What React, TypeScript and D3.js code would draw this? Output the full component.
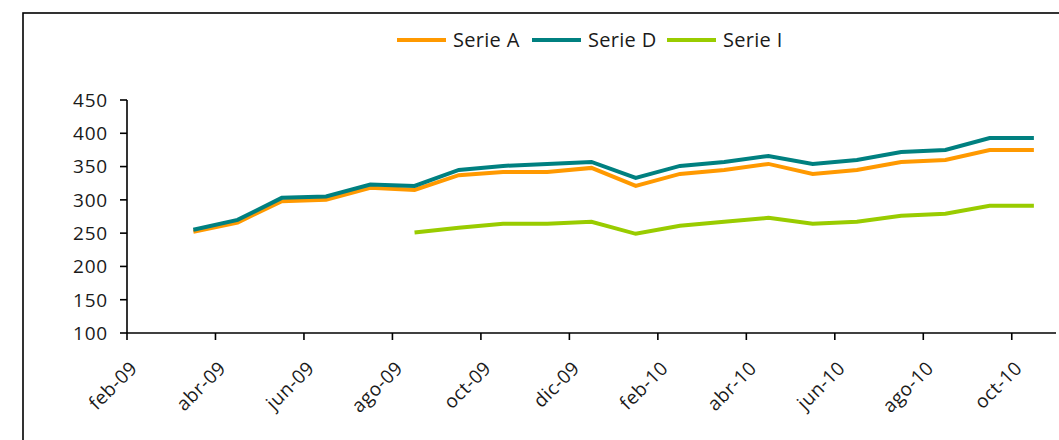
import React from "react";
import * as d3 from "d3";

// data months: mar-09 .. oct-10
const serieA = [252, 266, 298, 300, 318, 315, 337, 342, 342, 348, 321, 339, 345, 354, 339, 345, 357, 360, 375, 375];
const serieD = [255, 270, 303, 305, 323, 321, 345, 351, 354, 357, 333, 351, 357, 366, 354, 360, 372, 375, 393, 393];
const serieI: (number | null)[] = [null, null, null, null, null, 251, 258, 264, 264, 267, 249, 261, 267, 273, 264, 267, 276, 279, 291, 291];
const xTickLabels = ["feb-09","abr-09","jun-09","ago-09","oct-09","dic-09","feb-10","abr-10","jun-10","ago-10","oct-10"];
const yTicks = [100, 150, 200, 250, 300, 350, 400, 450];

const series = [
  { name: "Serie A", values: serieA, color: "#FF9900" },
  { name: "Serie D", values: serieD, color: "#008080" },
  { name: "Serie I", values: serieI, color: "#99CC00" },
];

const FONT = "'Open Sans', sans-serif";

export default function App() {
  const W = 1059, H = 440;
  // month index: 0 = feb-09 ; data month i sits at index i+1, centered (+0.5)
  const x = d3.scaleLinear().domain([0, 21]).range([127, 1056]);
  const y = d3.scaleLinear().domain([100, 450]).range([333, 100]);

  const line = d3
    .line<number | null>()
    .defined((d) => d !== null)
    .x((_, i) => x(i + 1.5))
    .y((d) => y(d as number));

  const legendItems = [
    { lx: 397, tx: 453 },
    { lx: 532, tx: 588 },
    { lx: 667, tx: 723 },
  ];

  return (
    <svg
      width={W}
      height={H}
      style={{ position: "fixed", left: 0, top: 0, display: "block", background: "#fff" }}
      fontFamily={FONT}
    >
      <rect x={23} y={13} width={1200} height={600} fill="none" stroke="#000" strokeWidth={1.6} />

      {/* legend */}
      {series.map((s, i) => (
        <g key={s.name}>
          <line x1={legendItems[i].lx} x2={legendItems[i].lx + 49} y1={40} y2={40} stroke={s.color} strokeWidth={4} />
          <text x={legendItems[i].tx} y={47} fontSize={20} fill="#1a1a1a" letterSpacing={0.3}>
            {s.name}
          </text>
        </g>
      ))}

      {/* y axis */}
      <line x1={127} x2={127} y1={y(450)} y2={y(100)} stroke="#000" strokeWidth={1.6} />
      {yTicks.map((t) => (
        <g key={t}>
          <line x1={120} x2={127} y1={y(t)} y2={y(t)} stroke="#000" strokeWidth={1.6} />
          <text x={108} y={y(t)} dy="0.36em" textAnchor="end" fontSize={19} fill="#1a1a1a" letterSpacing={0.8}>
            {t}
          </text>
        </g>
      ))}

      {/* x axis */}
      <line x1={127} x2={x(21)} y1={y(100)} y2={y(100)} stroke="#000" strokeWidth={1.6} />
      {xTickLabels.map((lab, k) => {
        const xx = x(k * 2);
        return (
          <g key={lab}>
            <line x1={xx} x2={xx} y1={y(100)} y2={y(100) + 7} stroke="#000" strokeWidth={1.6} />
            <text
              transform={`translate(${xx + 2},${y(100) + 27}) rotate(-45)`}
              textAnchor="end"
              dy="0.7em"
              fontSize={19}
              fill="#1a1a1a"
              letterSpacing={0.4}
            >
              {lab}
            </text>
          </g>
        );
      })}

      {/* lines */}
      {series.map((s) => (
        <path
          key={s.name}
          d={line(s.values) || ""}
          fill="none"
          stroke={s.color}
          strokeWidth={4}
          strokeLinejoin="miter"
        />
      ))}
    </svg>
  );
}
